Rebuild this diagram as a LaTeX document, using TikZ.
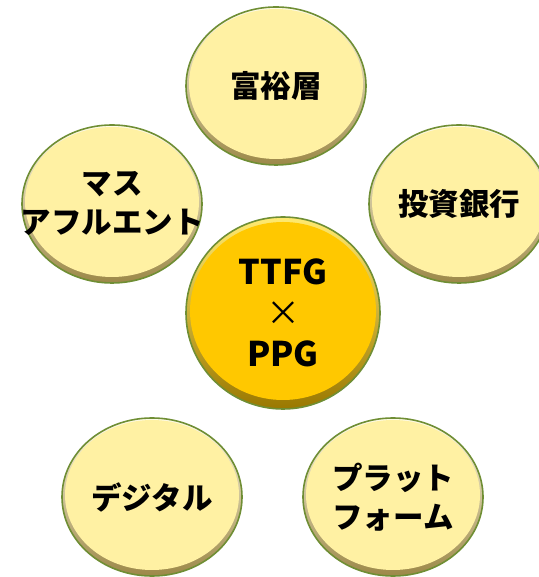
\documentclass[tikz,border=0pt]{standalone}
\usepackage{fontspec}
\setmainfont{Noto Sans CJK JP}
\usetikzlibrary{positioning,shapes.geometric}

\definecolor{ringgreen}{HTML}{6F8E34}
\definecolor{palefill}{HTML}{FFF1A3}
\definecolor{palehi}{HTML}{FFFCE6}
\definecolor{palelo}{HTML}{9C8848}
\definecolor{goldfill}{HTML}{FFC800}
\definecolor{goldhi}{HTML}{FFEA70}
\definecolor{goldlo}{HTML}{9A7800}

\begin{document}
\begin{tikzpicture}[
    x=1pt, y=1pt, on grid,
    ring/.style={ellipse, draw=ringgreen, line width=1.6pt, inner sep=0pt},
    ringtext/.style={font=\bfseries\fontsize{30.5}{39}\selectfont, align=center, inner sep=0pt},
    market/.style={ring, minimum width=180pt, minimum height=158pt,
        top color=palehi, bottom color=palelo,
        path picture={\fill[palefill] ([yshift=2pt]path picture bounding box.center) ellipse [x radius=87pt, y radius=75pt];},
        label={[ringtext]center:#1}},
    hubring/.style={ring, minimum width=194pt, minimum height=192pt,
        top color=goldhi, bottom color=goldlo,
        path picture={\fill[goldfill] ([yshift=2pt]path picture bounding box.center) ellipse [x radius=93pt, y radius=89pt];},
        label={[ringtext, font=\bfseries\fontsize{34}{41}\selectfont]center:#1}}
]
\useasboundingbox (0,0) rectangle (538,577);

% Centre
\node[hubring={TTFG\\{\mdseries ×}\\PPG}] (hub) at (283,264) {};

% Upper ring
\node[market={富裕層}, above=227pt of hub, xshift=-7pt] (wealthy) {};
\node[market={マス\\アフルエント}, above left=109pt and 171pt of hub] (massaffluent) {};
\node[market={投資銀行}, above right=109pt and 176pt of hub] (ibank) {};

% Lower ring
\node[market={デジタル}, below left=184pt and 131pt of hub] (digital) {};
\node[market={プラット\\フォーム}, below right=184pt and 110pt of hub] (platform) {};
\end{tikzpicture}
\end{document}
